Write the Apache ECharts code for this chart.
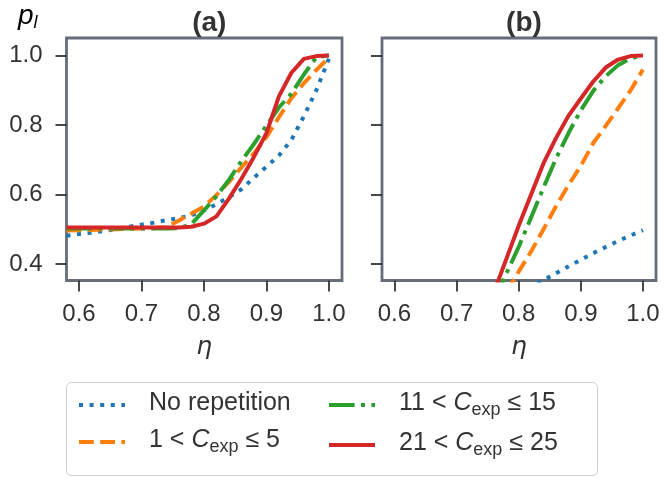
<!DOCTYPE html>
<html><head><meta charset="utf-8">
<script src="https://cdn.jsdelivr.net/npm/echarts@6/dist/echarts.min.js"></script>
<style>html,body{margin:0;padding:0;background:#fff}#c{width:664px;height:478px}</style>
</head><body><div id="c"></div>
<script>
// ---- data ----
const etaA = [0.58,0.60,0.62,0.64,0.66,0.68,0.70,0.72,0.74,0.76,0.78,0.80,0.82,0.84,0.86,0.88,0.90,0.92,0.94,0.96,0.98,1.00];
const aNoRep = [0.481,0.486,0.490,0.495,0.500,0.507,0.513,0.519,0.526,0.532,0.540,0.554,0.572,0.592,0.615,0.648,0.680,0.712,0.757,0.825,0.900,0.990];
const aC1_5  = [0.496,0.497,0.498,0.499,0.500,0.501,0.502,0.503,0.506,0.525,0.545,0.565,0.598,0.636,0.678,0.718,0.765,0.822,0.877,0.920,0.958,0.993];
const aC11_15= [0.502,0.502,0.502,0.502,0.502,0.502,0.502,0.502,0.502,0.503,0.515,0.554,0.595,0.642,0.696,0.745,0.798,0.850,0.890,0.945,0.995,1.000];
const aC21_25= [0.505,0.505,0.505,0.505,0.505,0.505,0.505,0.505,0.505,0.505,0.507,0.516,0.537,0.588,0.645,0.708,0.776,0.882,0.950,0.990,0.998,1.000];

const etaB = [0.76,0.78,0.80,0.82,0.84,0.86,0.88,0.90,0.92,0.94,0.96,0.98,1.00];
const bNoRep = [null,null,0.316,0.335,0.354,0.373,0.393,0.412,0.431,0.449,0.466,0.482,0.497];
const bC1_5  = [null,0.320,0.378,0.436,0.500,0.566,0.627,0.682,0.748,0.797,0.848,0.899,0.959];
const bC11_15= [0.290,0.372,0.449,0.534,0.620,0.703,0.776,0.842,0.898,0.940,0.972,0.991,1.000];
const bC21_25= [0.318,0.414,0.510,0.600,0.690,0.762,0.826,0.876,0.925,0.965,0.988,0.998,1.000];

const xTicks = [0.6,0.7,0.8,0.9,1.0];
const yTicks = [0.4,0.6,0.8,1.0];
const panelTitles = ['(a)','(b)'];
const seriesNames = ['No repetition','1 < C_exp ≤ 5','11 < C_exp ≤ 15','21 < C_exp ≤ 25'];

// ---- styling ----
const colors = ['#1f77b4','#ff7f0e','#2ca02c','#d62728'];
const dashes = [[4,6.6],[14.8,6.4],[25.6,6.4,4,6.4],'solid'];
const frame = '#666d78';
const txt = '#333333';
const FONT = 'Liberation Sans';

function pairs(xs, ys){ return xs.map((x,i)=> ys[i]==null ? null : [x, ys[i]]).filter(p=>p); }

const grids = [
  {left:66.5, top:38, width:275.5, height:242.5},
  {left:382, top:38, width:274, height:242.5}
];
const xAxes = grids.map((g,i)=>({
  type:'value', gridIndex:i, min:0.58, max:1.021,
  name:'η', nameLocation:'middle', nameGap:54,
  nameTextStyle:{fontFamily:'DejaVu Sans', fontStyle:'italic', fontSize:25, color:txt},
  axisLine:{show:false}, splitLine:{show:false},
  axisTick:{show:true, customValues:xTicks, length:11, inside:false, lineStyle:{color:'#333',width:1.8}},
  axisLabel:{customValues:xTicks, formatter:v=>v.toFixed(1), fontFamily:FONT, fontSize:24, color:txt, margin:22}
}));
const yAxes = grids.map((g,i)=>({
  type:'value', gridIndex:i, min:0.3525, max:1.05,
  axisLine:{show:false}, splitLine:{show:false},
  axisTick:{show:true, customValues:yTicks, length:11, lineStyle:{color:'#333',width:1.8}},
  axisLabel:{show:i===0, customValues:yTicks, formatter:v=>v.toFixed(1), fontFamily:FONT, fontSize:24, color:txt, margin:24}
}));

const panelData = [[aNoRep,aC1_5,aC11_15,aC21_25],[bNoRep,bC1_5,bC11_15,bC21_25]];
const panelEta = [etaA, etaB];
const series = [];
panelData.forEach((arrs,p)=>{
  arrs.forEach((ys,k)=>{
    series.push({
      name:seriesNames[k], type:'line', xAxisIndex:p, yAxisIndex:p,
      data:pairs(panelEta[p], ys), showSymbol:false, symbol:'none', smooth:false, clip:true,
      lineStyle:{color:colors[k], width:4, type:dashes[k], cap:'butt'},
      itemStyle:{color:colors[k]}, z: 2+k
    });
  });
});

const rich = {
  n:{fontFamily:FONT, fontSize:25, color:txt, lineHeight:28, verticalAlign:'top'},
  c:{fontFamily:FONT, fontSize:25, color:txt, fontStyle:'italic', lineHeight:28, verticalAlign:'top'},
  s:{fontFamily:FONT, fontSize:18, color:txt, lineHeight:11, verticalAlign:'bottom'}
};
function fmt(name){
  const m = name.match(/^(\d+) < C_exp ≤ (\d+)$/);
  if(!m) return '{n|'+name+'}';
  return '{n|'+m[1]+' < }{c|C}{s|exp}{n| ≤ '+m[2]+'}';
}
const legendBase = {
  orient:'vertical', itemWidth:46, itemHeight:14, itemGap:12, padding:0,
  formatter:fmt,
  itemStyle:{opacity:0, borderWidth:0},
  lineStyle:{width:4},
  textStyle:{rich:rich, padding:[0,0,0,19], color:txt}
};

const option = {
  animation:false,
  color:colors,
  title: grids.map((g,i)=>({text:panelTitles[i], left:g.left+g.width/2, top:4, textAlign:'center',
    textStyle:{fontFamily:FONT, fontWeight:'bold', fontSize:28, color:txt}})),
  grid: grids.map(g=>Object.assign({show:true, borderColor:frame, borderWidth:2.8, backgroundColor:'transparent'}, g)),
  xAxis:xAxes, yAxis:yAxes, series:series,
  legend:[
    Object.assign({}, legendBase, {left:77, top:391, data:[seriesNames[0],seriesNames[1]]}),
    Object.assign({}, legendBase, {left:327, top:391, data:[seriesNames[2],seriesNames[3]]})
  ],
  graphic:[
    {type:'rect', shape:{x:66.5, y:382.5, width:531, height:93, r:5}, style:{fill:'none', stroke:'#cfcfcf', lineWidth:1}, z:-1},
    {type:'text', left:18, top:2, style:{rich:{
      p:{fontFamily:FONT, fontStyle:'italic', fontSize:28, color:txt, lineHeight:30, verticalAlign:'top'},
      l:{fontFamily:FONT, fontStyle:'italic', fontSize:18, color:txt, lineHeight:14, verticalAlign:'bottom'}
    }, text:'{p|p}{l|l}'}}
  ]
};
const chart = echarts.init(document.getElementById('c'), null, {renderer:'canvas'});
chart.setOption(option);
</script></body></html>
